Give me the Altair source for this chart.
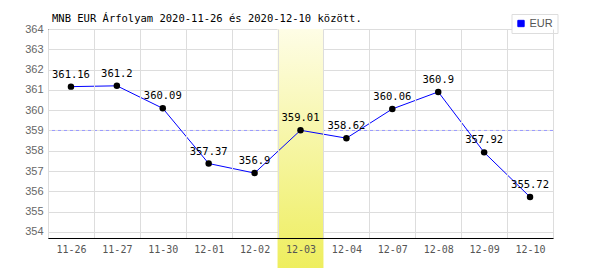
import altair as alt
import pandas as pd

dates = ["11-26", "11-27", "11-30", "12-01", "12-02", "12-03", "12-04", "12-07", "12-08", "12-09", "12-10"]
rates = [361.16, 361.2, 360.09, 357.37, 356.9, 359.01, 358.62, 360.06, 360.9, 357.92, 355.72]
average = [359.0]
highlight = ["12-03"]
y_ticks = list(range(354, 365))

df = pd.DataFrame({"date": dates, "rate": rates, "cur": ["EUR"] * len(dates),
                   "lbl": [f"{v:g}" for v in rates]})
avg_df = pd.DataFrame({"rate": average})
hl_df = pd.DataFrame({"date": highlight})

W, H = 505, 209
MONO = "DejaVu Sans Mono"

x = alt.X("date:N", sort=dates,
          scale=alt.Scale(domain=dates, paddingInner=0, paddingOuter=0),
          axis=alt.Axis(title=None, labelAngle=0, ticks=False, tickBand="extent",
                        grid=True, gridColor="#dddddd", domainColor="black",
                        labelFont=MONO, labelFontSize=10, labelColor="#555555",
                        labelPadding=6))
y_axis = alt.Axis(title=None, values=y_ticks, ticks=False, grid=True,
                  gridColor="#dddddd", domainColor="black", labelOverlap=False,
                  labelFont="Liberation Sans", labelFontSize=11,
                  labelColor="#666666", labelPadding=5)
y_scale = alt.Scale(domain=[353.7, 364], nice=False, zero=False)
y = alt.Y("rate:Q", scale=y_scale, axis=y_axis)

rule = alt.Chart(avg_df).mark_rule(color="#9999ff", strokeDash=[3, 3], strokeWidth=1).encode(y=y)

band = alt.Chart(hl_df).mark_rect(
    color=alt.Gradient(gradient="linear", x1=0, x2=0, y1=0, y2=1,
                       stops=[alt.GradientStop(color="#fefde6", offset=0),
                              alt.GradientStop(color="#eeee5e", offset=1)])
).encode(x=x, y=alt.value(0), y2=alt.value(H + 30))

line = alt.Chart(df).mark_line(strokeWidth=1).encode(
    x=x, y=y,
    color=alt.Color("cur:N", scale=alt.Scale(domain=["EUR"], range=["#0000ff"]),
                    legend=alt.Legend(title=None, orient="none", legendX=463.5, legendY=-15,
                                      symbolType="square", symbolSize=40,
                                      symbolFillColor="#0000ff", symbolStrokeWidth=1,
                                      labelFont="Liberation Sans", labelFontSize=11,
                                      labelColor="#555555", padding=4, labelOffset=3,
                                      strokeColor="#dddddd", fillColor="white")))

points = alt.Chart(df).mark_circle(size=42, color="black", opacity=1).encode(x=x, y=y)

labels = alt.Chart(df).mark_text(font=MONO, fontSize=10.5, color="black", dy=-12).encode(
    x=x, y=y, text="lbl:N")

chart = alt.layer(rule, band, line, points, labels).properties(
    width=W, height=H,
    title=alt.TitleParams("MNB EUR Árfolyam 2020-11-26 és 2020-12-10 között.",
                          anchor="start", frame="group", font=MONO, fontSize=10.5,
                          fontWeight="normal", color="black", dx=4, dy=18, offset=7),
    autosize=alt.AutoSizeParams(type="none"),
    padding={"left": 48, "top": 29, "right": 47, "bottom": 32},
).configure_view(stroke="#dddddd", strokeWidth=1).configure(background="white")

chart.save("out.html", embed_options={"renderer": "svg", "actions": False})
